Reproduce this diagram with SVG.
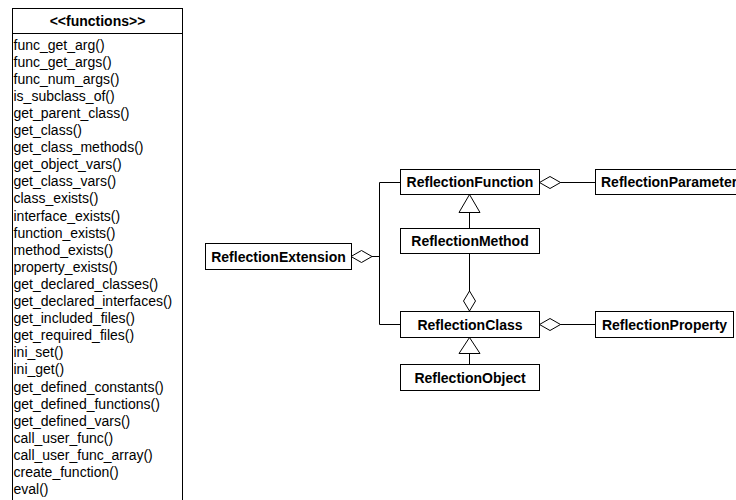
<svg xmlns="http://www.w3.org/2000/svg" width="736" height="500" viewBox="0 0 736 500">
<style>
.box{fill:#fff;stroke:#000;stroke-width:1}
.ln{fill:none;stroke:#000;stroke-width:1}
.agg{fill:#fff;stroke:#000;stroke-width:1}
.gen{fill:#fff;stroke:#000;stroke-width:1}
.lbl{font-family:"Liberation Sans",Arial,sans-serif;font-size:14px;font-weight:bold;fill:#000;text-anchor:middle}
.fn{font-family:"Liberation Sans",Arial,sans-serif;font-size:14px;fill:#000}
</style>
<rect width="736" height="500" fill="#fff"/>
<g id="functions">
<rect class="box" x="12.5" y="8.5" width="170" height="500"/>
<line class="ln" x1="12.5" y1="33.5" x2="182.5" y2="33.5"/>
<text class="lbl" x="97.5" y="26">&lt;&lt;functions&gt;&gt;</text>
<text class="fn" x="13.5" y="49.5">func_get_arg()</text>
<text class="fn" x="13.5" y="66.6">func_get_args()</text>
<text class="fn" x="13.5" y="83.7">func_num_args()</text>
<text class="fn" x="13.5" y="100.8">is_subclass_of()</text>
<text class="fn" x="13.5" y="117.9">get_parent_class()</text>
<text class="fn" x="13.5" y="135">get_class()</text>
<text class="fn" x="13.5" y="152.1">get_class_methods()</text>
<text class="fn" x="13.5" y="169.2">get_object_vars()</text>
<text class="fn" x="13.5" y="186.3">get_class_vars()</text>
<text class="fn" x="13.5" y="203.4">class_exists()</text>
<text class="fn" x="13.5" y="220.5">interface_exists()</text>
<text class="fn" x="13.5" y="237.6">function_exists()</text>
<text class="fn" x="13.5" y="254.7">method_exists()</text>
<text class="fn" x="13.5" y="271.8">property_exists()</text>
<text class="fn" x="13.5" y="288.9">get_declared_classes()</text>
<text class="fn" x="13.5" y="306">get_declared_interfaces()</text>
<text class="fn" x="13.5" y="323.1">get_included_files()</text>
<text class="fn" x="13.5" y="340.2">get_required_files()</text>
<text class="fn" x="13.5" y="357.3">ini_set()</text>
<text class="fn" x="13.5" y="374.4">ini_get()</text>
<text class="fn" x="13.5" y="391.5">get_defined_constants()</text>
<text class="fn" x="13.5" y="408.6">get_defined_functions()</text>
<text class="fn" x="13.5" y="425.7">get_defined_vars()</text>
<text class="fn" x="13.5" y="442.8">call_user_func()</text>
<text class="fn" x="13.5" y="459.9">call_user_func_array()</text>
<text class="fn" x="13.5" y="477">create_function()</text>
<text class="fn" x="13.5" y="494.1">eval()</text>
</g>
<g id="connectors">
<polyline class="ln" points="372,256.5 379.5,256.5"/>
<polyline class="ln" points="400,182.5 379.5,182.5 379.5,324.5 400,324.5"/>
<line class="ln" x1="560" y1="182.5" x2="595" y2="182.5"/>
<line class="ln" x1="560" y1="324.5" x2="595" y2="324.5"/>
<line class="ln" x1="469.5" y1="212" x2="469.5" y2="228"/>
<line class="ln" x1="469.5" y1="253" x2="469.5" y2="291"/>
<line class="ln" x1="469.5" y1="353" x2="469.5" y2="364"/>
<polygon class="agg" points="351,256.5 361.5,250.5 372,256.5 361.5,262.5"/>
<polygon class="agg" points="539.5,182.5 550,176.5 560.5,182.5 550,188.5"/>
<polygon class="agg" points="539.5,324.5 550,318.5 560.5,324.5 550,330.5"/>
<polygon class="agg" points="469.5,311 475.5,301 469.5,291 463.5,301"/>
<polygon class="gen" points="469.5,194.5 480,212.5 459,212.5"/>
<polygon class="gen" points="469.5,337.5 480,353.5 459,353.5"/>
</g>
<g id="ReflectionExtension">
<rect class="box" x="205.5" y="243.5" width="146" height="26"/>
<text class="lbl" x="278.5" y="261.5">ReflectionExtension</text>
</g>
<g id="ReflectionFunction">
<rect class="box" x="400.5" y="169.5" width="139" height="25"/>
<text class="lbl" x="470" y="187">ReflectionFunction</text>
</g>
<g id="ReflectionParameter">
<rect class="box" x="595.5" y="169.5" width="150" height="25"/>
<text class="lbl" x="601" y="187" style="text-anchor:start">ReflectionParameter</text>
</g>
<g id="ReflectionMethod">
<rect class="box" x="400.5" y="228.5" width="139" height="25"/>
<text class="lbl" x="470" y="246">ReflectionMethod</text>
</g>
<g id="ReflectionClass">
<rect class="box" x="400.5" y="311.5" width="139" height="26"/>
<text class="lbl" x="470" y="329.5">ReflectionClass</text>
</g>
<g id="ReflectionProperty">
<rect class="box" x="595.5" y="311.5" width="138" height="26"/>
<text class="lbl" x="664.5" y="329.5">ReflectionProperty</text>
</g>
<g id="ReflectionObject">
<rect class="box" x="400.5" y="364.5" width="139" height="26"/>
<text class="lbl" x="470" y="382.5">ReflectionObject</text>
</g>
</svg>
